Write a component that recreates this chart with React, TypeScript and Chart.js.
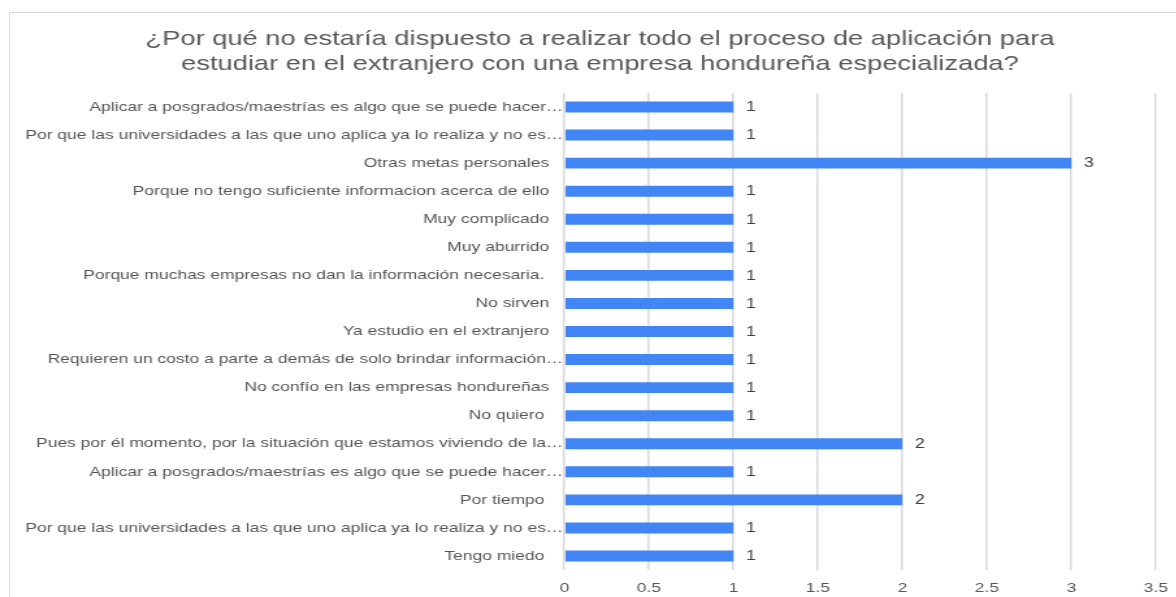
import { useEffect, useRef } from 'react';
import { Chart, registerables } from 'chart.js';

Chart.register(...registerables);

const titleLines = [
  '¿Por qué no estaría dispuesto a realizar todo el proceso de aplicación para',
  'estudiar en el extranjero con una empresa hondureña especializada?',
];

const categories = [
  'Aplicar a posgrados/maestrías es algo que se puede hacer…',
  'Por que las universidades a las que uno aplica ya lo realiza y no es…',
  'Otras metas personales',
  'Porque no tengo suficiente informacion acerca de ello',
  'Muy complicado',
  'Muy aburrido',
  'Porque muchas empresas no dan la información necesaria. ',
  'No sirven',
  'Ya estudio en el extranjero',
  'Requieren un costo a parte a demás de solo brindar información…',
  'No confío en las empresas hondureñas',
  'No quiero ',
  'Pues por él momento, por la situación que estamos viviendo de la…',
  'Aplicar a posgrados/maestrías es algo que se puede hacer…',
  'Por tiempo ',
  'Por que las universidades a las que uno aplica ya lo realiza y no es…',
  'Tengo miedo ',
];

const counts = [1, 1, 3, 1, 1, 1, 1, 1, 1, 1, 1, 1, 2, 1, 2, 1, 1];

const xMin = 0;
const xMax = 3.5;
const xStep = 0.5;

const STRETCH = 1.3;
const CANVAS_W = 923;
const CANVAS_H = 597;
const SIDE_PAD = 33.8;
const Y_AXIS_W = 400.4;
const FONT = "'Liberation Sans', Arial, sans-serif";
const LABEL_SIZE = 13.45;

const labelsPlugin = {
  id: 'sheetLabels',
  afterDatasetsDraw(chart: any) {
    const { ctx, chartArea, scales } = chart;
    const yScale = scales.y;
    ctx.save();
    ctx.font = `${LABEL_SIZE}px ${FONT}`;
    ctx.textBaseline = 'middle';
    ctx.fillStyle = '#555555';
    ctx.textAlign = 'right';
    categories.forEach((c, i) => {
      const py = yScale.getPixelForValue(i);
      const truncated = c.endsWith('…');
      const px = chartArea.left - (truncated ? 0.9 : 11.7);
      ctx.fillText(c, px, py);
    });
    ctx.fillStyle = '#404040';
    ctx.textAlign = 'left';
    ctx.font = `13.8px ${FONT}`;
    const meta = chart.getDatasetMeta(0);
    meta.data.forEach((bar: any, i: number) => {
      ctx.fillText(String(counts[i]), bar.x + 9.6, bar.y + 0.5);
    });
    ctx.restore();
  },
};

export default function App() {
  const ref = useRef<HTMLCanvasElement | null>(null);

  useEffect(() => {
    if (!ref.current) return;
    const chart = new Chart(ref.current, {
      type: 'bar',
      data: {
        labels: categories,
        datasets: [
          {
            data: counts,
            backgroundColor: '#4285F4',
            borderWidth: 0,
            barPercentage: 0.39,
            categoryPercentage: 1,
          },
        ],
      },
      options: {
        indexAxis: 'y',
        animation: false,
        responsive: false,
        maintainAspectRatio: false,
        devicePixelRatio: 1,
        layout: { padding: { left: SIDE_PAD, right: SIDE_PAD, top: 0, bottom: 0 } },
        plugins: {
          legend: { display: false },
          tooltip: { enabled: false },
          title: {
            display: true,
            text: titleLines,
            color: '#595959',
            font: { family: FONT, size: 21, weight: 'normal', lineHeight: 1.19 },
            padding: { top: 27, bottom: 16 },
          },
        },
        scales: {
          x: {
            type: 'linear',
            min: xMin,
            max: xMax,
            ticks: {
              stepSize: xStep,
              color: '#555555',
              font: { family: FONT, size: LABEL_SIZE },
              padding: 10,
              callback: (v: any) => String(v),
            },
            grid: { color: '#d9d9d9', lineWidth: 1.5, drawTicks: false },
            border: { display: false },
            afterFit(scale: any) {
              scale.height = 27;
            },
          },
          y: {
            type: 'category',
            display: true,
            ticks: { display: false },
            grid: { display: false, drawTicks: false },
            border: { display: false },
            afterFit(scale: any) {
              scale.width = Y_AXIS_W;
            },
          },
        },
      } as any,
      plugins: [labelsPlugin],
    });
    return () => chart.destroy();
  }, []);

  return (
    <div
      style={{
        position: 'fixed',
        left: 0,
        top: 0,
        width: 1176,
        height: 597,
        overflow: 'hidden',
        background: '#ffffff',
      }}
    >
      <div
        style={{
          position: 'absolute',
          left: 9,
          top: 12,
          width: 1400,
          height: 800,
          border: '1px solid #d9d9d9',
        }}
      />
      <canvas
        ref={ref}
        width={CANVAS_W}
        height={CANVAS_H}
        style={{
          position: 'absolute',
          left: 0,
          top: 0,
          width: CANVAS_W,
          height: CANVAS_H,
          transform: `scaleX(${STRETCH})`,
          transformOrigin: '0 0',
        }}
      />
    </div>
  );
}
